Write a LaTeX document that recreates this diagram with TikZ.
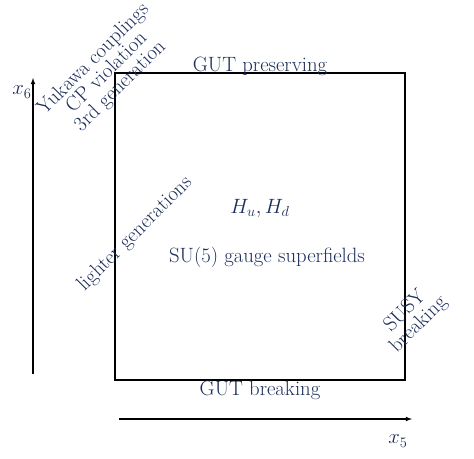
\RequirePackage{fix-cm}
\documentclass[tikz,border=0pt]{standalone}
\usepackage{fontspec}
\usetikzlibrary{positioning}
\definecolor{azul}{RGB}{28,46,90}
\begin{document}
\begin{tikzpicture}[x=1pt, y=-1pt,
    etiqueta/.style={text=azul, font=\fontsize{20.7}{19}\selectfont, align=center, inner sep=0pt},
    eje/.style={-latex, line width=1.1pt}]
    \useasboundingbox (0,0) rectangle (474,458);

    % Dibuja los ejes
    \coordinate (o6) at (33,374);
    \coordinate (e6) at (33,78);
    \coordinate (o5) at (119,419);
    \coordinate (e5) at (412,419);
    \draw[eje] (o6) -- (e6);
    \draw[eje] (o5) -- (e5);
    \node[etiqueta] (x6) at (22,92) {$x_6$};
    \node[etiqueta] (x5) at (398,441) {$x_5$};

    % Dibuja la caja
    \coordinate (c1) at (115,73);
    \coordinate (c2) at (405,380);
    \draw[line width=1.7pt] (c1) rectangle (c2);

    % Etiquetas
    \node[etiqueta, anchor=base] (arriba) at (260,71) {GUT preserving};
    \node[etiqueta, anchor=base] (abajo) at (260,395) {GUT breaking};
    \node[etiqueta, anchor=base] (higgs) at (260,213) {$H_u,H_d$};
    \node[etiqueta, anchor=base] (gauge) at (267,262) {SU(5) gauge superfields};
    \node[etiqueta, rotate=45] (tercera) at (107,73) {Yukawa couplings\\CP violation\\3rd generation};
    \node[etiqueta, rotate=45] (ligeras) at (135,234) {lighter generations};
    \node[etiqueta, rotate=45] (susy) at (412,318) {SUSY\\breaking};
\end{tikzpicture}
\end{document}
